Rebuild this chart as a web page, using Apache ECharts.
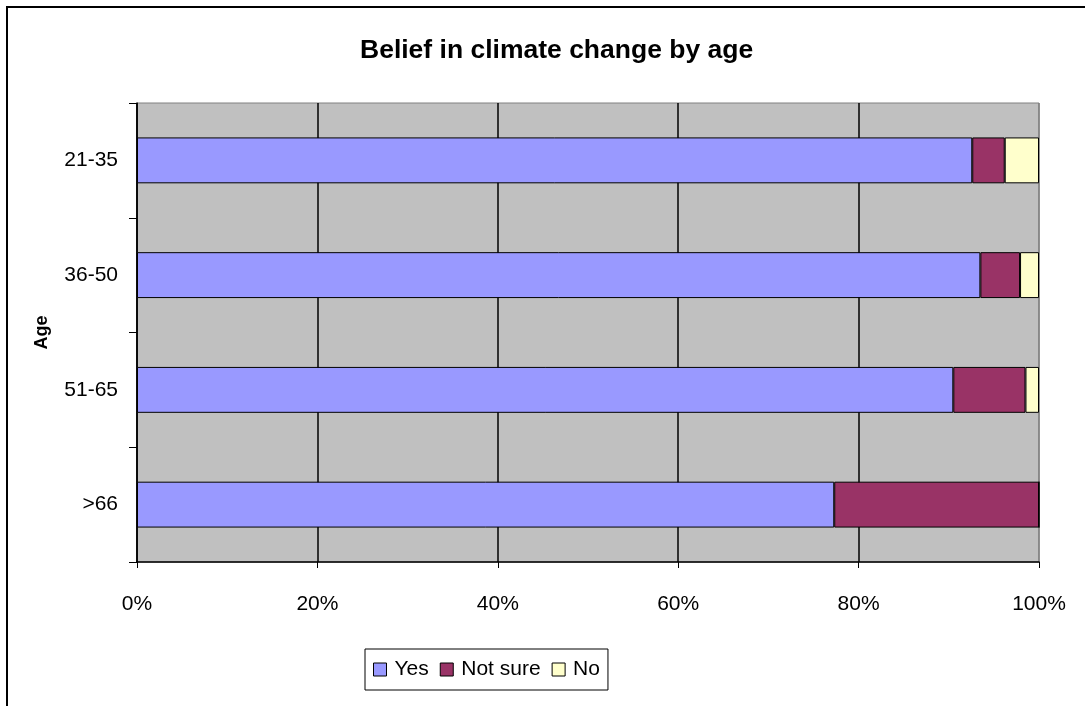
<!DOCTYPE html>
<html>
<head>
<meta charset="utf-8">
<script src="https://cdn.jsdelivr.net/npm/echarts@6/dist/echarts.min.js"></script>
<style>
  html, body { margin: 0; padding: 0; background: #fff; }
  #chart { width: 1085px; height: 706px; }
</style>
</head>
<body>
<div id="chart"></div>
<script>
// Age groups (top to bottom) and share of answers in each group, in percent
const categories = ['21-35', '36-50', '51-65', '>66'];
const yesValues = [92.6, 93.5, 90.5, 77.3];
const notSureValues = [3.6, 4.4, 8.0, 22.7];
const noValues = [3.8, 2.1, 1.5, 0];
const xTicks = [0, 20, 40, 60, 80, 100];

const FONT = 'Liberation Sans, Arial, sans-serif';
const chart = echarts.init(document.getElementById('chart'), null, { renderer: 'canvas' });

function barSeries(name, data, color) {
  return {
    name: name,
    type: 'bar',
    stack: 'total',
    data: data,
    barCategoryGap: '60%',
    itemStyle: { color: color, borderColor: '#000', borderWidth: 1 },
    emphasis: { disabled: true }
  };
}

chart.setOption({
  animation: false,
  backgroundColor: '#fff',
  textStyle: { fontFamily: FONT },
  title: {
    text: 'Belief in climate change by age',
    left: 355,
    top: 32,
    textStyle: { fontFamily: FONT, fontSize: 26.5, fontWeight: 'bold', color: '#000' }
  },
  graphic: [{
    type: 'rect',
    shape: { x: 7, y: 7, width: 1200, height: 1000 },
    style: { fill: 'none', stroke: '#000', lineWidth: 2 },
    silent: true,
    z: 100
  }],
  legend: {
    left: 365,
    top: 649,
    itemWidth: 13,
    itemHeight: 13,
    itemGap: 11,
    icon: 'rect',
    padding: [10, 8, 10, 8],
    borderColor: '#000',
    borderWidth: 1,
    backgroundColor: '#fff',
    selectedMode: false,
    itemStyle: { borderColor: '#000', borderWidth: 1 },
    textStyle: { fontFamily: FONT, fontSize: 21, color: '#000', padding: [0, 0, 0, 3] },
    data: ['Yes', 'Not sure', 'No']
  },
  grid: {
    left: 137,
    right: 46,
    top: 103,
    bottom: 144,
    show: true,
    backgroundColor: '#C0C0C0',
    borderColor: '#808080',
    borderWidth: 1,
    containLabel: false
  },
  xAxis: {
    type: 'value',
    min: xTicks[0],
    max: xTicks[xTicks.length - 1],
    interval: 20,
    axisLine: { show: true, lineStyle: { color: '#000', width: 1.5 } },
    axisTick: { show: true, length: 6, lineStyle: { color: '#000' } },
    axisLabel: { formatter: '{value}%', fontSize: 21, color: '#000', margin: 32, fontFamily: FONT },
    splitLine: {
      show: true,
      lineStyle: { color: ['#000', '#000', '#000', '#000', '#000', '#808080'], width: 1.5 }
    }
  },
  yAxis: {
    type: 'category',
    inverse: true,
    data: categories,
    name: 'Age',
    nameLocation: 'middle',
    nameRotate: 90,
    nameGap: 86,
    nameTextStyle: { fontFamily: FONT, fontSize: 18, fontWeight: 'bold', color: '#000' },
    axisLine: { show: true, lineStyle: { color: '#000', width: 1.5 } },
    axisTick: { show: true, length: 8, lineStyle: { color: '#000' } },
    axisLabel: { fontSize: 21, color: '#000', margin: 19, fontFamily: FONT },
    splitLine: { show: false }
  },
  series: [
    barSeries('Yes', yesValues, '#9999FF'),
    barSeries('Not sure', notSureValues, '#993366'),
    barSeries('No', noValues, '#FFFFCC')
  ]
});
</script>
</body>
</html>
